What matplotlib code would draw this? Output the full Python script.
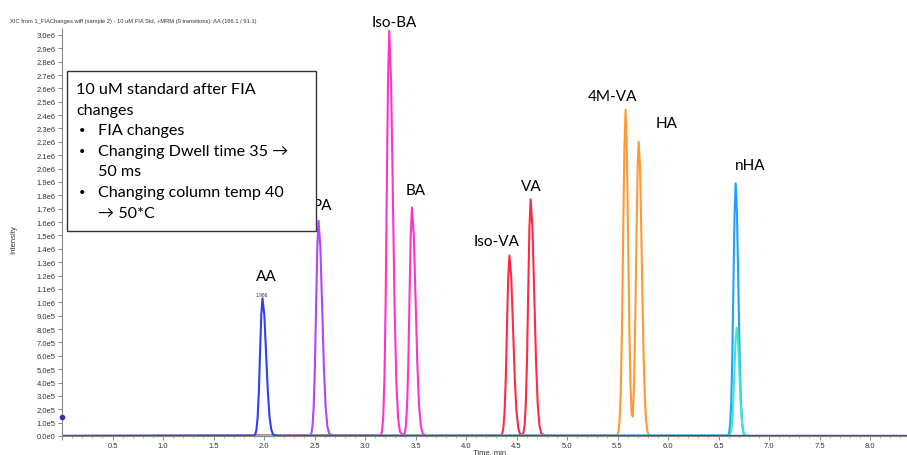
import matplotlib
matplotlib.use('Agg')
import matplotlib.pyplot as plt
from matplotlib.patches import Rectangle
from matplotlib.ticker import FuncFormatter, MultipleLocator
import numpy as np

# === data (intensity in units of 1e5 counts, time in min) ===
aa_t = [0.0, 1.901, 1.913, 1.925, 1.937, 1.949, 1.961, 1.973, 1.985, 2.003, 2.020, 2.038,
        2.055, 2.073, 2.090, 2.125, 2.16, 8.4]
aa_y = [0.0, 0.02, 0.11, 0.45, 1.39, 3.30, 6.28, 9.06, 10.3, 9.06, 6.28, 3.30,
        1.39, 0.45, 0.11, 0.02, 0.0, 0.0]

pa_t = [0.0, 2.456, 2.468, 2.480, 2.492, 2.504, 2.516, 2.528, 2.540, 2.558, 2.575, 2.593,
        2.610, 2.628, 2.645, 2.680, 2.72, 8.4]
pa_y = [0.0, 0.03, 0.18, 0.71, 2.17, 5.15, 9.82, 14.17, 16.1, 14.17, 9.82, 5.15,
        2.17, 0.71, 0.18, 0.03, 0.0, 0.0]

ba_t = [0.0, 3.156, 3.168, 3.180, 3.192, 3.204, 3.216, 3.228, 3.240, 3.258, 3.275, 3.293,
        3.310, 3.328, 3.345, 3.365, 3.381, 3.393, 3.405, 3.417, 3.429, 3.441, 3.453,
        3.465, 3.483, 3.500, 3.518, 3.535, 3.553, 3.570, 3.605, 3.65, 8.4]
ba_y = [0.0, 0.06, 0.33, 1.33, 4.09, 9.70, 18.48, 26.66, 30.3, 26.66, 18.48, 9.70,
        4.09, 1.33, 0.33, 0.15, 0.10, 0.19, 0.75, 2.31, 5.47, 10.43, 15.05,
        17.1, 15.05, 10.43, 5.47, 2.31, 0.75, 0.19, 0.03, 0.0, 0.0]

va_t = [0.0, 4.346, 4.358, 4.370, 4.382, 4.394, 4.406, 4.418, 4.430, 4.448, 4.465, 4.483,
        4.500, 4.518, 4.535, 4.556, 4.568, 4.580, 4.592, 4.604, 4.616, 4.628, 4.640,
        4.658, 4.675, 4.693, 4.710, 4.728, 4.745, 4.780, 4.82, 8.4]
va_y = [0.0, 0.03, 0.15, 0.59, 1.82, 4.32, 8.24, 11.88, 13.5, 11.88, 8.24, 4.32,
        1.82, 0.59, 0.15, 0.07, 0.19, 0.78, 2.39, 5.66, 10.80, 15.58, 17.7,
        15.58, 10.80, 5.66, 2.39, 0.78, 0.19, 0.04, 0.0, 0.0]

ha_t = [0.0, 5.496, 5.508, 5.520, 5.532, 5.544, 5.556, 5.568, 5.580, 5.592, 5.604, 5.616,
        5.628, 5.640, 5.652, 5.664, 5.676, 5.688, 5.700, 5.710, 5.722, 5.734, 5.746,
        5.758, 5.770, 5.782, 5.794, 5.806, 5.830, 8.4]
ha_y = [0.0, 0.05, 0.27, 1.07, 3.29, 7.81, 14.88, 21.47, 24.4, 21.7, 15.4, 8.68,
        3.96, 1.65, 1.45, 3.9, 8.73, 14.9, 20.3, 22.0, 20.3, 16.0, 10.7,
        6.1, 2.97, 1.23, 0.44, 0.13, 0.01, 0.0]

nha_t = [0.0, 6.593, 6.604, 6.615, 6.626, 6.637, 6.648, 6.659, 6.670, 6.683, 6.696, 6.709,
         6.722, 6.735, 6.748, 6.761, 6.80, 8.4]
nha_y = [0.0, 0.04, 0.21, 0.83, 2.55, 6.05, 11.53, 16.63, 18.9, 16.63, 11.53, 6.05,
         2.55, 0.83, 0.21, 0.04, 0.0, 0.0]

nha2_t = [0.0, 6.603, 6.614, 6.625, 6.636, 6.647, 6.658, 6.669, 6.680, 6.693, 6.706, 6.719,
          6.732, 6.745, 6.758, 6.771, 6.80, 8.4]
nha2_y = [0.0, 0.02, 0.09, 0.36, 1.09, 2.59, 4.94, 7.13, 8.1, 7.13, 4.94, 2.59,
          1.09, 0.36, 0.09, 0.02, 0.0, 0.0]

peak_names = ['AA', 'PA', 'Iso-BA', 'BA', 'Iso-VA', 'VA', '4M-VA', 'HA', 'nHA']
aa_rt_label = '1.986'
title = 'XIC from 1_FIAChanges.wiff (sample 2) - 10 uM FIA Std, +MRM (9 transitions): AA (166.1 / 91.1)'
box_lines = ['10 uM standard after FIA', 'changes']
box_bullets = [['FIA changes'], ['Changing Dwell time 35 \u2192', '50 ms'],
               ['Changing column temp 40', '\u2192 50*C']]

# === plot ===
W, H = 907, 456
fig = plt.figure(figsize=(W / 100, H / 100), dpi=100)
ax = fig.add_axes([62 / W, 19 / H, (W - 62) / W, (437 - 30) / H])

scale = 1e5
traces = [
    (pa_t, pa_y, '#b044ff'),
    (ba_t, ba_y, '#ff33cc'),
    (va_t, va_y, '#ff2a45'),
    (ha_t, ha_y, '#ff9933'),
    (nha_t, nha_y, '#22a0ff'),
    (nha2_t, nha2_y, '#3de8c4'),
    (aa_t, aa_y, '#3040f5'),
]
for t, y, c in traces:
    ax.plot(t, np.array(y) * scale, color=c, lw=1.5, solid_joinstyle='round')

# small marker on the y axis
ax.plot([0], [1.42e5], 'o', color='#2a35b0', ms=3, clip_on=False, zorder=5)

ax.set_xlim(0, (W - 62) / 101)
ax.set_ylim(0, (437 - 30) / 133.7 * 1e6)

def sci(v, pos):
    if v <= 0:
        return '0.0e0'
    e = int(np.floor(np.log10(v) + 1e-9))
    return '{:.1f}e{}'.format(round(v / 10 ** e, 1), e)

ax.yaxis.set_major_locator(MultipleLocator(1e5))
ax.yaxis.set_major_formatter(FuncFormatter(sci))
ax.xaxis.set_major_locator(MultipleLocator(0.5))
ax.xaxis.set_minor_locator(MultipleLocator(0.1))
ax.xaxis.set_major_formatter(FuncFormatter(lambda v, p: '' if v == 0 else '{:.1f}'.format(v)))
ax.tick_params(axis='both', which='major', labelsize=5.5, length=3, width=0.6,
               color='#777777', labelcolor='#333333', pad=1.5)
ax.tick_params(axis='x', which='minor', length=1.5, width=0.5, color='#999999')
for lab in ax.get_xticklabels() + ax.get_yticklabels():
    lab.set_family(['Liberation Sans', 'DejaVu Sans'])
for s in ['top', 'right']:
    ax.spines[s].set_visible(False)
for s in ['left', 'bottom']:
    ax.spines[s].set_color('#888888')
    ax.spines[s].set_linewidth(0.8)

# peak labels
label_pos = [(2.02, 1.20e6), (2.575, 1.73e6), (3.287, 3.10e6), (3.505, 1.84e6),
             (4.307, 1.46e6), (4.644, 1.87e6), (5.446, 2.54e6), (5.99, 2.34e6),
             (6.81, 2.03e6)]
lab_font = ['Lato', 'DejaVu Sans']
for name, (x, y) in zip(peak_names, label_pos):
    ax.text(x, y, name, ha='center', va='center', fontsize=11, family=lab_font,
            color='black', clip_on=False)
ax.text(1.98, 1.055e6, aa_rt_label, ha='center', va='center', fontsize=3.5,
        color='#333333', family=['Liberation Sans', 'DejaVu Sans'])

# title and axis labels
fig.text(10 / W, 1 - 22 / H, title, fontsize=4.15, color='#333333',
         family=['Liberation Sans', 'DejaVu Sans'], va='center')
fig.text(14 / W, 1 - 240 / H, 'Intensity', rotation=90, fontsize=5.5, color='#333333',
         family=['Liberation Sans', 'DejaVu Sans'], ha='center', va='center')
fig.text(490 / W, 1 - 453 / H, 'Time, min', fontsize=5.5, color='#333333',
         family=['Liberation Sans', 'DejaVu Sans'], ha='center', va='center')

# text box
fig.patches.append(Rectangle((67 / W, 1 - 232 / H), 249 / W, 160 / H,
                             transform=fig.transFigure, fill=True, facecolor='white',
                             edgecolor='#333333', lw=1.0, zorder=3))
row = 0
ys = [90, 111, 131, 152, 172, 193, 214]
for line in box_lines:
    fig.text(76 / W, 1 - ys[row] / H, line, fontsize=11.6, family=lab_font,
             va='center', color='black', zorder=4)
    row += 1
for group in box_bullets:
    fig.text(79 / W, 1 - ys[row] / H, '\u2022', fontsize=8, family=lab_font,
             va='center', color='black', zorder=4)
    for line in group:
        fig.text(98 / W, 1 - ys[row] / H, line, fontsize=11.6, family=lab_font,
                 va='center', color='black', zorder=4)
        row += 1

fig.savefig('out.png', dpi=100)
